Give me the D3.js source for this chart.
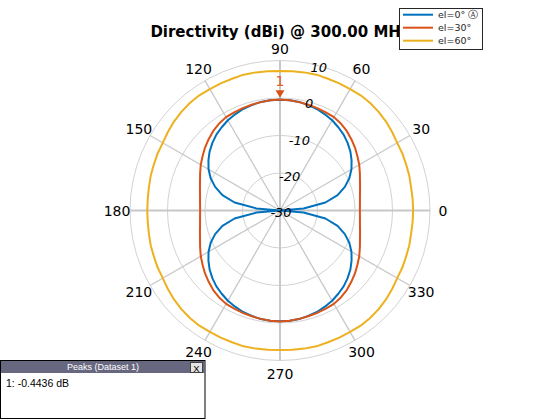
<!DOCTYPE html>
<html>
<head>
<meta charset="utf-8">
<script src="https://cdn.jsdelivr.net/npm/d3@7"></script>
<style>
  html, body { margin: 0; padding: 0; background: #fff; }
  svg { display: block; }
</style>
</head>
<body>
<svg id="chart" width="560" height="420"></svg>
<script>
// ---------------- data ----------------
const titleText = "Directivity (dBi) @ 300.00 MHz";
const seriesNames = ["el=0° \u24B6", "el=30°", "el=60°"];
const seriesColors = ["#0072BD", "#D95319", "#EDB120"];
const azimuths = d3.range(0, 360, 5); // degrees, 72 samples
const angleTicks = [0, 30, 60, 90, 120, 150, 180, 210, 240, 270, 300, 330];
const radialTicks = [-30, -20, -10, 0, 10];

const el0 = [
  -40, -23.7, -17.7, -14.1, -11.6, -9.6, -8.0, -6.7, -5.5, -4.5, -3.6, -2.9, -2.2, -1.7, -1.2, -0.9, -0.6, -0.5, -0.44,
  -0.5, -0.6, -0.9, -1.2, -1.7, -2.2, -2.9, -3.6, -4.5, -5.5, -6.7, -8.0, -9.6, -11.6, -14.1, -17.7, -23.7, -40,
  -23.7, -17.7, -14.1, -11.6, -9.6, -8.0, -6.7, -5.5, -4.5, -3.6, -2.9, -2.2, -1.7, -1.2, -0.9, -0.6, -0.5, -0.45,
  -0.5, -0.6, -0.9, -1.2, -1.7, -2.2, -2.9, -3.6, -4.5, -5.5, -6.7, -8.0, -9.6, -11.6, -14.1, -17.7, -23.7
];
const el30 = [
  -8.7, -8.6, -8.35, -7.9, -7.3, -6.5, -5.6, -4.8, -3.9, -3.1, -2.3, -1.7, -1.25, -1.1, -0.95, -0.8, -0.65, -0.5, -0.4,
  -0.5, -0.65, -0.8, -0.95, -1.1, -1.25, -1.7, -2.3, -3.1, -3.9, -4.8, -5.6, -6.5, -7.3, -7.9, -8.35, -8.6, -8.7,
  -8.6, -8.35, -7.9, -7.3, -6.5, -5.6, -4.8, -3.9, -3.1, -2.3, -1.7, -1.25, -1.1, -0.95, -0.8, -0.65, -0.5, -0.4,
  -0.5, -0.65, -0.8, -0.95, -1.1, -1.25, -1.7, -2.3, -3.1, -3.9, -4.8, -5.6, -6.5, -7.3, -7.9, -8.35, -8.6
];
const el60 = [
  5.5, 5.5, 5.5, 5.7, 5.8, 6.0, 6.1, 6.5, 6.9, 7.2, 7.4, 7.5, 7.4, 7.4, 7.4, 7.5, 7.4, 7.3, 7.2,
  7.3, 7.4, 7.5, 7.4, 7.4, 7.4, 7.5, 7.4, 7.2, 6.9, 6.5, 6.1, 6.0, 5.8, 5.7, 5.5, 5.4, 5.4,
  5.4, 5.5, 5.7, 5.8, 6.0, 6.1, 6.5, 6.9, 7.2, 7.4, 7.5, 7.4, 7.4, 7.4, 7.5, 7.4, 7.3, 7.2,
  7.3, 7.4, 7.5, 7.4, 7.4, 7.4, 7.5, 7.4, 7.2, 6.9, 6.5, 6.1, 6.0, 5.8, 5.7, 5.5, 5.5
];
const seriesValues = [el0, el30, el60];
const peakAngle = 90;
const peakValue = -0.4436;
const peakLabel = "1";
const peaksTitle = "Peaks (Dataset 1)";
const peaksText = "1: -0.4436 dB";

// ---------------- layout ----------------
const svg = d3.select("#chart");
const cx = 280, cy = 210.5, R = 150;
const rScale = d3.scaleLinear().domain([-30, 10]).range([0, R]).clamp(true);
const toRad = d => d * Math.PI / 180;
const px = (az, r) => cx + r * Math.cos(toRad(az));
const py = (az, r) => cy - r * Math.sin(toRad(az));

const g = svg.append("g");

// rings
g.selectAll("circle.ring").data(radialTicks.slice(1)).enter().append("circle")
  .attr("cx", cx).attr("cy", cy).attr("r", d => rScale(d))
  .attr("fill", "none").attr("stroke", "#d2d2d2").attr("stroke-width", 1);

// spokes
g.selectAll("line.spoke").data(angleTicks).enter().append("line")
  .attr("x1", cx).attr("y1", cy)
  .attr("x2", d => px(d, R)).attr("y2", d => py(d, R))
  .attr("stroke", "#c8c8c8")
  .attr("stroke-width", d => d % 90 === 0 ? 2 : 1.3);

// angle labels
g.selectAll("text.ang").data(angleTicks).enter().append("text")
  .attr("x", d => px(d, 163)).attr("y", d => py(d, 163) + (d === 90 ? 1 : 0))
  .attr("text-anchor", "middle").attr("dominant-baseline", "central")
  .attr("font-family", "DejaVu Sans").attr("font-size", 14)
  .attr("fill", "#000").text(d => d);

// curves
const line = d3.lineRadial()
  .angle(d => Math.PI / 2 - toRad(d[0]))
  .radius(d => rScale(d[1]))
  .curve(d3.curveLinearClosed);

const curves = svg.append("g").attr("transform", `translate(${cx},${cy})`);
seriesValues.forEach((vals, i) => {
  curves.append("path")
    .datum(azimuths.map((a, k) => [a, vals[k]]))
    .attr("d", line)
    .attr("fill", "none")
    .attr("stroke", seriesColors[i])
    .attr("stroke-width", 2)
    .attr("stroke-linejoin", "round");
});

// radial labels (italic, at 75 deg)
svg.selectAll("text.rad").data(radialTicks).enter().append("text")
  .attr("x", d => px(75, rScale(d)) + (d === -30 ? 1 : 0))
  .attr("y", d => py(75, rScale(d)) + 2)
  .attr("text-anchor", "middle").attr("dominant-baseline", "central")
  .attr("font-family", "DejaVu Sans").attr("font-style", "italic").attr("font-size", 13)
  .attr("fill", "#000").text(d => d);

// peak marker
const pr = rScale(peakValue);
const tipX = px(peakAngle, pr), tipY = py(peakAngle, pr) - 2;
svg.append("path")
  .attr("d", `M${tipX - 4.5},${tipY - 7.5} L${tipX + 4.5},${tipY - 7.5} L${tipX},${tipY} Z`)
  .attr("fill", "#D95319");
svg.append("text")
  .attr("x", tipX).attr("y", tipY - 12)
  .attr("text-anchor", "middle")
  .attr("font-family", "DejaVu Sans").attr("font-size", 14)
  .attr("fill", "#E0602A").text(peakLabel);

// title
svg.append("text")
  .attr("x", 280).attr("y", 37)
  .attr("text-anchor", "middle")
  .attr("font-family", "DejaVu Sans").attr("font-weight", "bold").attr("font-size", 15)
  .attr("fill", "#000").text(titleText);

// legend
const lg = svg.append("g");
lg.append("rect").attr("x", 399.5).attr("y", 8.5).attr("width", 83).attr("height", 41)
  .attr("fill", "#fff").attr("stroke", "#262626").attr("stroke-width", 1);
seriesNames.forEach((n, i) => {
  const y = 14.7 + i * 13;
  lg.append("line").attr("x1", 403).attr("x2", 433).attr("y1", y).attr("y2", y)
    .attr("stroke", seriesColors[i]).attr("stroke-width", 2);
  lg.append("text").attr("x", 438).attr("y", y).attr("dominant-baseline", "central")
    .attr("font-family", "DejaVu Sans").attr("font-size", 9.5).attr("fill", "#262626").text(n);
});

// peaks box
const pb = svg.append("g");
pb.append("rect").attr("x", 0.5).attr("y", 360.5).attr("width", 204.5).attr("height", 58)
  .attr("fill", "#fff").attr("stroke", "#000").attr("stroke-width", 1);
pb.append("rect").attr("x", 1).attr("y", 361).attr("width", 204).attr("height", 12)
  .attr("fill", "#67677f");
pb.append("text").attr("x", 103).attr("y", 367).attr("text-anchor", "middle")
  .attr("dominant-baseline", "central")
  .attr("font-family", "Liberation Sans").attr("font-size", 9).attr("fill", "#fff").text(peaksTitle);
pb.append("rect").attr("x", 190.5).attr("y", 362.5).attr("width", 12).attr("height", 10)
  .attr("fill", "#e4e4e4").attr("stroke", "#444").attr("stroke-width", 1);
pb.append("text").attr("x", 196.5).attr("y", 368).attr("text-anchor", "middle")
  .attr("dominant-baseline", "central")
  .attr("font-family", "Liberation Sans").attr("font-size", 9.5).attr("fill", "#000").text("X");
pb.append("text").attr("x", 6).attr("y", 387)
  .attr("font-family", "Liberation Sans").attr("font-size", 10.5).attr("fill", "#000").text(peaksText);
</script>
</body>
</html>
